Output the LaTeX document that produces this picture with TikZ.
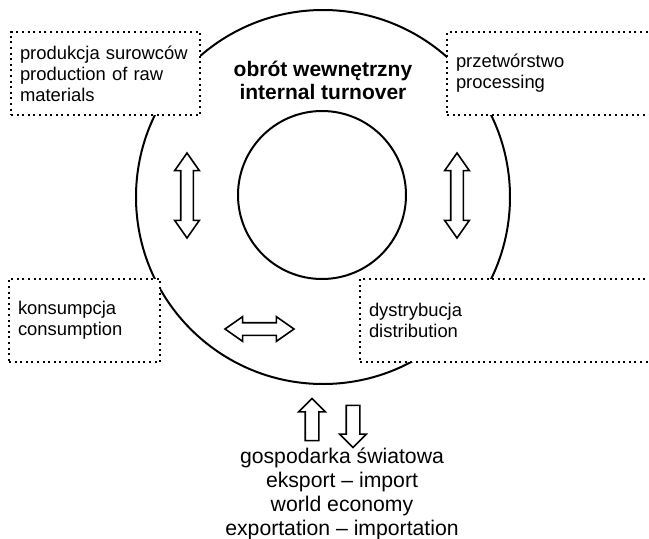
\documentclass[tikz,border=0pt]{standalone}
\usepackage{fontspec}
\setmainfont{Liberation Sans}
\usetikzlibrary{shapes.arrows}
\tikzstyle{sector} = [rectangle, anchor=north west, draw, line width=2pt, dash pattern=on 2pt off 3.6pt, fill=white, minimum height=83pt, inner xsep=9pt, align=left, font=\fontsize{18.4}{21}\selectfont]
\tikzstyle{ring} = [circle, draw, line width=2pt, inner sep=0pt]
\tikzstyle{twoway} = [double arrow, draw, line width=1.6pt, inner xsep=0pt, inner ysep=5.5pt, double arrow head extend=6pt, double arrow tip angle=70]
\tikzstyle{oneway} = [single arrow, draw, line width=1.6pt, inner xsep=0pt, inner ysep=6pt, minimum height=42pt, single arrow head extend=6.5pt, single arrow tip angle=90]

\begin{document}
\begin{tikzpicture}[x=1pt,y=-1pt]
	\useasboundingbox (0,0) rectangle (649,539);
	\node (outer)[ring, minimum size=374pt] at (323,197) {};
	\node (prod)[sector, text width=171pt] at (10,31) {produkcja surowców\\production of raw\\materials};
	\node (proc)[sector, text width=192pt] at (446,31) {przetwórstwo\\processing};
	\node (cons)[sector, text width=133pt] at (8,278) {konsumpcja\\consumption};
	\node (dist)[sector, text width=282pt] at (359,278) {dystrybucja\\distribution};
	\node (inner)[ring, minimum size=168pt] at (322,195) {};
	\node (title)[align=center, font=\bfseries\fontsize{21}{23}\selectfont] at (323,80.5) {obrót wewnętrzny\\internal turnover};
	% exchange arrows
	\node (lv)[twoway, minimum height=85pt, rotate=90] at (187,195.5) {};
	\node (rv)[twoway, minimum height=85pt, rotate=90] at (457,195.5) {};
	\node (hz)[twoway, minimum height=69pt] at (259.5,329) {};
	\node (exp)[oneway, rotate=90] at (312,423) {};
	\node (imp)[oneway, rotate=-90] at (353,423) {};
	\node (world)[align=center, font=\fontsize{21.2}{24}\selectfont] at (342,494) {gospodarka światowa\\eksport – import\\world economy\\exportation – importation};
\end{tikzpicture}
\end{document}
